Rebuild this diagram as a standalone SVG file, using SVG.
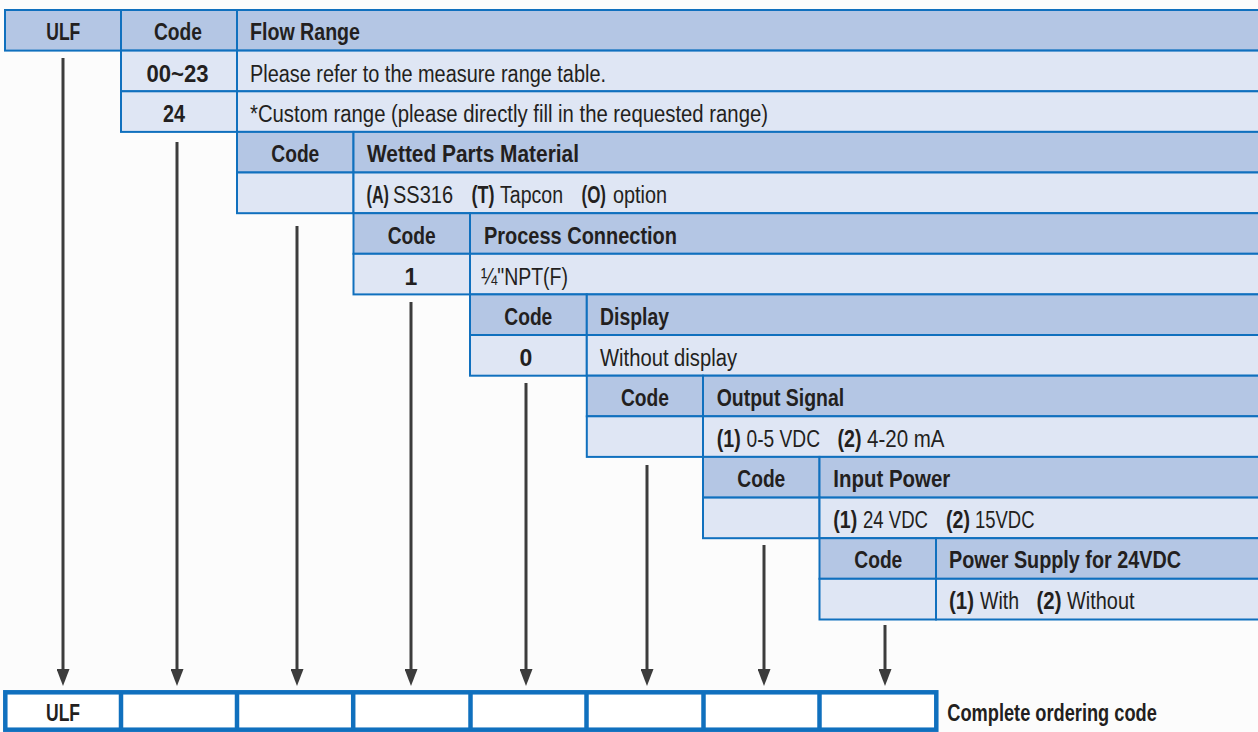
<svg xmlns="http://www.w3.org/2000/svg" width="1258" height="732" viewBox="0 0 1258 732">
<style>
.h{fill:#b4c6e4;stroke:#1070be;stroke-width:2}
.b{fill:#dfe6f4;stroke:#1070be;stroke-width:2}
.t{font-family:"Liberation Sans",Arial,sans-serif;font-size:23px;fill:#231f20}
.bd{font-weight:bold}
.c{text-anchor:middle}
.ar{stroke:#3c3c3c;stroke-width:3;fill:none;marker-end:url(#ah)}
.ob{fill:#ffffff;stroke:#1070be;stroke-width:4.5}
</style>
<defs>
<marker id="ah" viewBox="0 0 17 13" markerWidth="17" markerHeight="13" refX="7" refY="6.5" orient="auto" markerUnits="userSpaceOnUse">
<path d="M0,0 L17,6.5 L0,13 z" fill="#3c3c3c"/>
</marker>
</defs>
<rect x="0" y="0" width="1258" height="732" fill="#fcfcfc"/>

<g id="header-flow-range">
<rect class="h" x="5" y="10" width="116" height="40.6"/>
<rect class="h" x="121" y="10" width="116" height="40.6"/>
<rect class="h" x="237" y="10" width="1025" height="40.6"/>
<text class="t bd c" x="63.3" y="39.5" textLength="34" lengthAdjust="spacingAndGlyphs">ULF</text>
<text class="t bd c" x="178" y="39.5" textLength="48" lengthAdjust="spacingAndGlyphs">Code</text>
<text class="t bd" x="250" y="39.5" textLength="110" lengthAdjust="spacingAndGlyphs">Flow Range</text>
</g>

<g id="flow-range-options">
<rect class="b" x="121" y="50.6" width="116" height="40.7"/>
<rect class="b" x="237" y="50.6" width="1025" height="40.7"/>
<rect class="b" x="121" y="91.3" width="116" height="40.6"/>
<rect class="b" x="237" y="91.3" width="1025" height="40.6"/>
<text class="t bd c" x="177.5" y="81.5" textLength="62" lengthAdjust="spacingAndGlyphs">00~23</text>
<text class="t" x="250" y="81.5" textLength="356" lengthAdjust="spacingAndGlyphs">Please refer to the measure range table.</text>
<text class="t bd c" x="174" y="122" textLength="22" lengthAdjust="spacingAndGlyphs">24</text>
<text class="t" x="250" y="122" textLength="518" lengthAdjust="spacingAndGlyphs">*Custom range (please directly fill in the requested range)</text>
</g>

<g id="wetted-parts-material">
<rect class="h" x="237" y="131.9" width="116.5" height="40.6"/>
<rect class="h" x="353.5" y="131.9" width="908.5" height="40.6"/>
<rect class="b" x="237" y="172.5" width="116.5" height="40.7"/>
<rect class="b" x="353.5" y="172.5" width="908.5" height="40.7"/>
<text class="t bd c" x="295.3" y="162.3" textLength="48" lengthAdjust="spacingAndGlyphs">Code</text>
<text class="t bd" x="367" y="162.3" textLength="212" lengthAdjust="spacingAndGlyphs">Wetted Parts Material</text>
<text class="t bd" x="366.5" y="203" textLength="22.5" lengthAdjust="spacingAndGlyphs">(A)</text>
<text class="t" x="393" y="203" textLength="60" lengthAdjust="spacingAndGlyphs">SS316</text>
<text class="t bd" x="471.5" y="203" textLength="23" lengthAdjust="spacingAndGlyphs">(T)</text>
<text class="t" x="500" y="203" textLength="63" lengthAdjust="spacingAndGlyphs">Tapcon</text>
<text class="t bd" x="581.5" y="203" textLength="24.5" lengthAdjust="spacingAndGlyphs">(O)</text>
<text class="t" x="613" y="203" textLength="54" lengthAdjust="spacingAndGlyphs">option</text>
</g>

<g id="process-connection">
<rect class="h" x="353.5" y="213.2" width="116.5" height="40.6"/>
<rect class="h" x="470" y="213.2" width="792" height="40.6"/>
<rect class="b" x="353.5" y="253.8" width="116.5" height="40.6"/>
<rect class="b" x="470" y="253.8" width="792" height="40.6"/>
<text class="t bd c" x="411.7" y="243.5" textLength="48" lengthAdjust="spacingAndGlyphs">Code</text>
<text class="t bd" x="484" y="243.5" textLength="193" lengthAdjust="spacingAndGlyphs">Process Connection</text>
<text class="t bd c" x="411" y="284.5">1</text>
<text class="t" x="481" y="284.5" textLength="87" lengthAdjust="spacingAndGlyphs">¼"NPT(F)</text>
</g>

<g id="display">
<rect class="h" x="470" y="294.4" width="116.8" height="40.6"/>
<rect class="h" x="586.8" y="294.4" width="675.2" height="40.6"/>
<rect class="b" x="470" y="335" width="116.8" height="40.7"/>
<rect class="b" x="586.8" y="335" width="675.2" height="40.7"/>
<text class="t bd c" x="528.3" y="325" textLength="48" lengthAdjust="spacingAndGlyphs">Code</text>
<text class="t bd" x="600" y="325" textLength="69" lengthAdjust="spacingAndGlyphs">Display</text>
<text class="t bd c" x="526" y="366">0</text>
<text class="t" x="600" y="366" textLength="137" lengthAdjust="spacingAndGlyphs">Without display</text>
</g>

<g id="output-signal">
<rect class="h" x="586.8" y="375.7" width="116.2" height="40.6"/>
<rect class="h" x="703" y="375.7" width="559" height="40.6"/>
<rect class="b" x="586.8" y="416.3" width="116.2" height="40.6"/>
<rect class="b" x="703" y="416.3" width="559" height="40.6"/>
<text class="t bd c" x="645" y="405.5" textLength="48" lengthAdjust="spacingAndGlyphs">Code</text>
<text class="t bd" x="716.7" y="405.5" textLength="127.5" lengthAdjust="spacingAndGlyphs">Output Signal</text>
<text class="t bd" x="716.7" y="446.5" textLength="24" lengthAdjust="spacingAndGlyphs">(1)</text>
<text class="t" x="746.5" y="446.5" textLength="73.5" lengthAdjust="spacingAndGlyphs">0-5 VDC</text>
<text class="t bd" x="837.5" y="446.5" textLength="24" lengthAdjust="spacingAndGlyphs">(2)</text>
<text class="t" x="867" y="446.5" textLength="77.5" lengthAdjust="spacingAndGlyphs">4-20 mA</text>
</g>

<g id="input-power">
<rect class="h" x="703" y="456.9" width="116.5" height="40.7"/>
<rect class="h" x="819.5" y="456.9" width="442.5" height="40.7"/>
<rect class="b" x="703" y="497.6" width="116.5" height="40.6"/>
<rect class="b" x="819.5" y="497.6" width="442.5" height="40.6"/>
<text class="t bd c" x="761.3" y="486.5" textLength="48" lengthAdjust="spacingAndGlyphs">Code</text>
<text class="t bd" x="833.3" y="486.5" textLength="117" lengthAdjust="spacingAndGlyphs">Input Power</text>
<text class="t bd" x="833.3" y="528" textLength="24" lengthAdjust="spacingAndGlyphs">(1)</text>
<text class="t" x="863" y="528" textLength="65" lengthAdjust="spacingAndGlyphs">24 VDC</text>
<text class="t bd" x="946" y="528" textLength="24" lengthAdjust="spacingAndGlyphs">(2)</text>
<text class="t" x="975" y="528" textLength="59.5" lengthAdjust="spacingAndGlyphs">15VDC</text>
</g>

<g id="power-supply-24vdc">
<rect class="h" x="819.5" y="538.2" width="116.5" height="40.6"/>
<rect class="h" x="936" y="538.2" width="326" height="40.6"/>
<rect class="b" x="819.5" y="578.8" width="116.5" height="40.7"/>
<rect class="b" x="936" y="578.8" width="326" height="40.7"/>
<text class="t bd c" x="878.3" y="568" textLength="48" lengthAdjust="spacingAndGlyphs">Code</text>
<text class="t bd" x="949" y="568" textLength="232" lengthAdjust="spacingAndGlyphs">Power Supply for 24VDC</text>
<text class="t bd" x="949" y="609" textLength="25" lengthAdjust="spacingAndGlyphs">(1)</text>
<text class="t" x="980" y="609" textLength="39" lengthAdjust="spacingAndGlyphs">With</text>
<text class="t bd" x="1036.5" y="609" textLength="25" lengthAdjust="spacingAndGlyphs">(2)</text>
<text class="t" x="1067" y="609" textLength="67.5" lengthAdjust="spacingAndGlyphs">Without</text>
</g>

<g id="connectors">
<line class="ar" x1="63" y1="58" x2="63" y2="676"/>
<line class="ar" x1="177" y1="142" x2="177" y2="676"/>
<line class="ar" x1="297" y1="226" x2="297" y2="676"/>
<line class="ar" x1="411" y1="302" x2="411" y2="676"/>
<line class="ar" x1="526" y1="383" x2="526" y2="676"/>
<line class="ar" x1="647" y1="465" x2="647" y2="676"/>
<line class="ar" x1="764" y1="545" x2="764" y2="676"/>
<line class="ar" x1="885" y1="625" x2="885" y2="676"/>
</g>

<g id="ordering-code">
<rect class="ob" x="5.3" y="692.3" width="931" height="37.4"/>
<line x1="121" y1="692.3" x2="121" y2="729.7" stroke="#1070be" stroke-width="4.5"/>
<line x1="237" y1="692.3" x2="237" y2="729.7" stroke="#1070be" stroke-width="4.5"/>
<line x1="353.2" y1="692.3" x2="353.2" y2="729.7" stroke="#1070be" stroke-width="4.5"/>
<line x1="470.5" y1="692.3" x2="470.5" y2="729.7" stroke="#1070be" stroke-width="4.5"/>
<line x1="586.5" y1="692.3" x2="586.5" y2="729.7" stroke="#1070be" stroke-width="4.5"/>
<line x1="703.5" y1="692.3" x2="703.5" y2="729.7" stroke="#1070be" stroke-width="4.5"/>
<line x1="819.5" y1="692.3" x2="819.5" y2="729.7" stroke="#1070be" stroke-width="4.5"/>
<text class="t bd c" x="63" y="720.5" textLength="34" lengthAdjust="spacingAndGlyphs">ULF</text>
</g>
<text id="ordering-code-label" class="t bd" x="947.3" y="721" textLength="209.5" lengthAdjust="spacingAndGlyphs">Complete ordering code</text>
</svg>
